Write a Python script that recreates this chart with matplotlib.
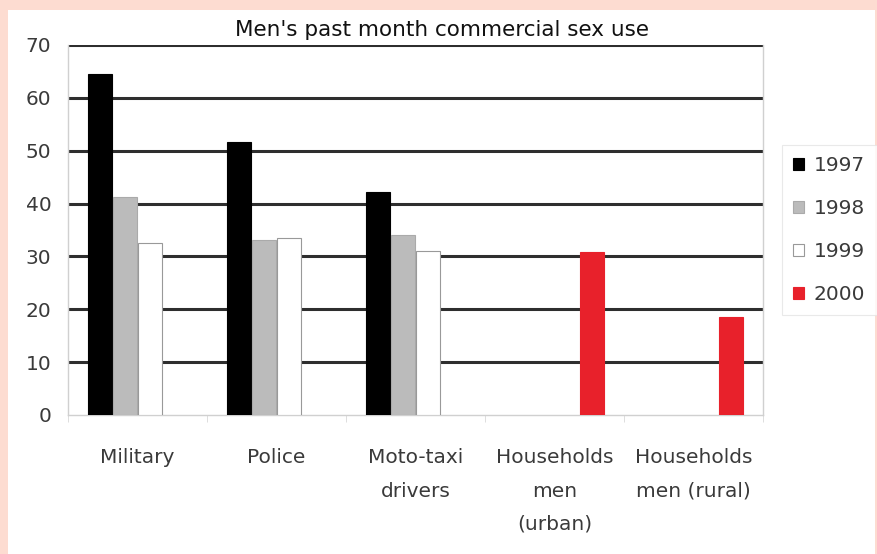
import numpy as np
import matplotlib.pyplot as plt
from matplotlib.patches import Rectangle

plt.rcParams['font.family'] = ['DejaVu Sans']

# data
categories = ['Military', 'Police', 'Moto-taxi\ndrivers', 'Households\nmen\n(urban)', 'Households\nmen (rural)']
years = ['1997', '1998', '1999', '2000']
v1997 = [64.6, 51.6, 42.1, np.nan, np.nan]
v1998 = [41.2, 33.1, 34.0, np.nan, np.nan]
v1999 = [32.5, 33.4, 31.1, np.nan, np.nan]
v2000 = [np.nan, np.nan, np.nan, 30.9, 18.5]

series = [v1997, v1998, v1999, v2000]
colors = ['#000000', '#bbbbbb', '#ffffff', '#e8212b']
edges = ['#000000', '#aaaaaa', '#999999', '#e8212b']

W, H = 877, 554
fig = plt.figure(figsize=(W / 100, H / 100), dpi=100)
fig.patch.set_facecolor('#fddcd1')
fig.add_artist(Rectangle((8 / W, 0), (875 - 8) / W, 1 - 10 / H,
                         transform=fig.transFigure, facecolor='white',
                         edgecolor='none', zorder=-10))

ax = fig.add_axes([68 / W, 1 - 415 / H, (763 - 68) / W, (415 - 45) / H])
ax.set_facecolor('white')

x = np.arange(len(categories))
width = 0.175
offsets = [-0.27, -0.09, 0.09, 0.27]
for vals, c, e, off, lab in zip(series, colors, edges, offsets, years):
    ax.bar(x + off, vals, width, color=c, edgecolor=e, linewidth=0.8,
           label=lab, zorder=3)

ax.set_xlim(-0.5, len(categories) - 0.5)
ax.set_ylim(0, 70)
ax.set_yticks(range(0, 71, 10))
for yv in range(10, 71, 10):
    ax.axhline(yv, color='#2e2e2e', lw=2.2, zorder=1)

ax.set_xticks(x)
ax.set_xticklabels(categories, fontsize=14.5, color='#3a3a3a', linespacing=1.95)
ax.set_xticks(np.arange(-0.5, len(categories)), minor=True)
ax.tick_params(axis='x', which='major', length=0, pad=24)
ax.tick_params(axis='x', which='minor', length=5, color='#d8d8d8')
ax.tick_params(axis='y', length=0, pad=12, labelsize=14.5, labelcolor='#3a3a3a')

for s in ['left', 'bottom', 'right']:
    ax.spines[s].set_color('#d0d0d0')
    ax.spines[s].set_linewidth(1)
ax.spines['top'].set_visible(False)

fig.text(442 / W, 1 - 36 / H, "Men's past month commercial sex use",
         ha='center', va='baseline', fontsize=15.5, color='#111111')

leg = ax.legend(loc='center left', bbox_to_anchor=(1.027, 0.5), frameon=True,
                fontsize=14.5, labelspacing=1.2, handlelength=0.55,
                handleheight=0.55, handletextpad=0.5, borderpad=0.55,
                fancybox=False, borderaxespad=0)
leg.get_frame().set_edgecolor('#e4e4e4')
leg.get_frame().set_linewidth(0.8)
for t in leg.get_texts():
    t.set_color('#3a3a3a')

fig.savefig('out.png', dpi=100, facecolor=fig.get_facecolor())
